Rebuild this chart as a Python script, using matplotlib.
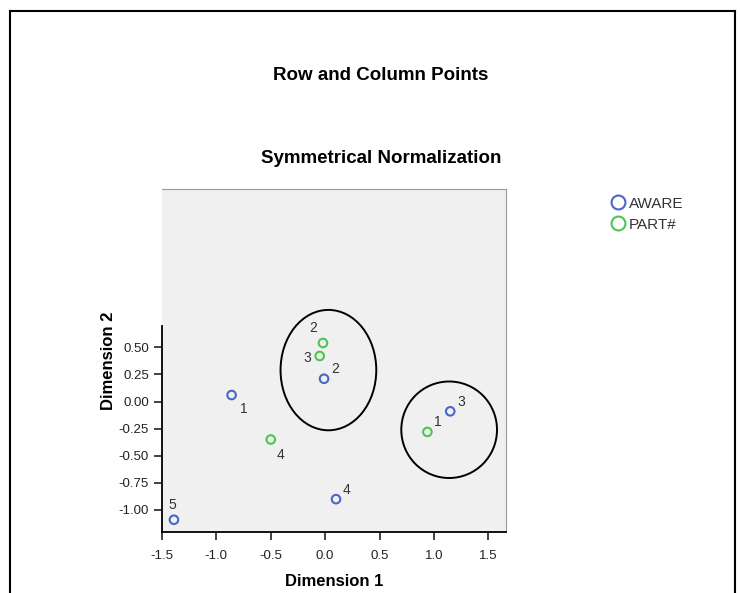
import matplotlib.pyplot as plt
from matplotlib.patches import Ellipse
from matplotlib.lines import Line2D

plt.rcParams['font.family'] = ['Liberation Sans', 'DejaVu Sans']

# row points (AWARE)
aware_lbl = ["1", "2", "3", "4", "5"]
aware_x = [-0.86, -0.01, 1.15, 0.10, -1.39]
aware_y = [0.06, 0.21, -0.09, -0.90, -1.09]

# column points (PART#)
part_lbl = ["1", "2", "3", "4"]
part_x = [0.94, -0.02, -0.05, -0.50]
part_y = [-0.28, 0.54, 0.42, -0.35]

xticks = [-1.5, -1.0, -0.5, 0.0, 0.5, 1.0, 1.5]
yticks = [0.5, 0.25, 0.0, -0.25, -0.5, -0.75, -1.0]

blue = "#4a66c6"
green = "#4cc650"

fig = plt.figure(figsize=(7.4, 5.93), dpi=100)
ax = fig.add_axes([0.2189, 0.1034, 0.4645, 0.5779])
ax.set_facecolor("#f0f0f0")

ax.scatter(aware_x, aware_y, s=38, facecolors="none", edgecolors=blue, linewidths=1.5, zorder=3)
ax.scatter(part_x, part_y, s=38, facecolors="none", edgecolors=green, linewidths=1.5, zorder=3)

# label offsets in points
aware_off = [(6, -13), (5, 4), (5, 4), (5, 4), (-4, 8)]
part_off = [(5, 4), (-10, 8), (-12, -4), (4, -14)]
for lb, x, y, o in zip(aware_lbl, aware_x, aware_y, aware_off):
    ax.annotate(lb, (x, y), xytext=o, textcoords="offset points", fontsize=10, color="#333333")
for lb, x, y, o in zip(part_lbl, part_x, part_y, part_off):
    ax.annotate(lb, (x, y), xytext=o, textcoords="offset points", fontsize=10, color="#333333")

# hand-drawn groupings
ax.add_patch(Ellipse((0.03, 0.29), 0.88, 1.11, fill=False, edgecolor="black", linewidth=1.4, zorder=4))
ax.add_patch(Ellipse((1.14, -0.26), 0.88, 0.89, fill=False, edgecolor="black", linewidth=1.4, zorder=4))

ax.set_xlim(-1.5, 1.66)
ax.set_ylim(-1.2, 1.96)
ax.set_xticks(xticks)
ax.set_xticklabels(["%.1f" % v for v in xticks])
ax.set_yticks(yticks)
ax.set_yticklabels(["%.2f" % v for v in yticks])
ax.tick_params(direction="out", length=6, width=1.3, labelsize=9.5, color="#333333", labelcolor="#222222")
ax.tick_params(axis="x", pad=7)

for s in ["top", "right"]:
    ax.spines[s].set_color("#999999")
    ax.spines[s].set_linewidth(0.8)
ax.spines["left"].set_bounds(-1.2, 0.70)
ax.spines["left"].set_linewidth(1.3)
ax.spines["bottom"].set_linewidth(1.3)

ax.set_xlabel("Dimension 1", fontsize=12, fontweight="bold", labelpad=9)
ax.set_ylabel("Dimension 2", fontsize=12, fontweight="bold")
ax.yaxis.set_label_coords(-0.135, 0.5)

fig.text(0.515, 0.872, "Row and Column Points", ha="center", va="center", fontsize=13.5, fontweight="bold")
fig.text(0.515, 0.732, "Symmetrical Normalization", ha="center", va="center", fontsize=13.5, fontweight="bold")

handles = [
    Line2D([], [], marker="o", linestyle="none", markersize=10, markerfacecolor="none", markeredgecolor=blue, markeredgewidth=1.5),
    Line2D([], [], marker="o", linestyle="none", markersize=10, markerfacecolor="none", markeredgecolor=green, markeredgewidth=1.5),
]
fig.legend(handles, ["AWARE", "PART#"], loc="upper left", bbox_to_anchor=(0.814, 0.681),
           frameon=False, fontsize=11, handletextpad=0.25, labelspacing=0.45, borderpad=0, handlelength=1.0,
           labelcolor="#333333")

# page border
fig.add_artist(Line2D([0.013, 0.013], [0.0, 0.981], transform=fig.transFigure, color="black", linewidth=1.5))
fig.add_artist(Line2D([0.013, 0.993], [0.981, 0.981], transform=fig.transFigure, color="black", linewidth=1.5))
fig.add_artist(Line2D([0.993, 0.993], [0.0, 0.981], transform=fig.transFigure, color="black", linewidth=1.5))

fig.savefig("out.png", dpi=100)
